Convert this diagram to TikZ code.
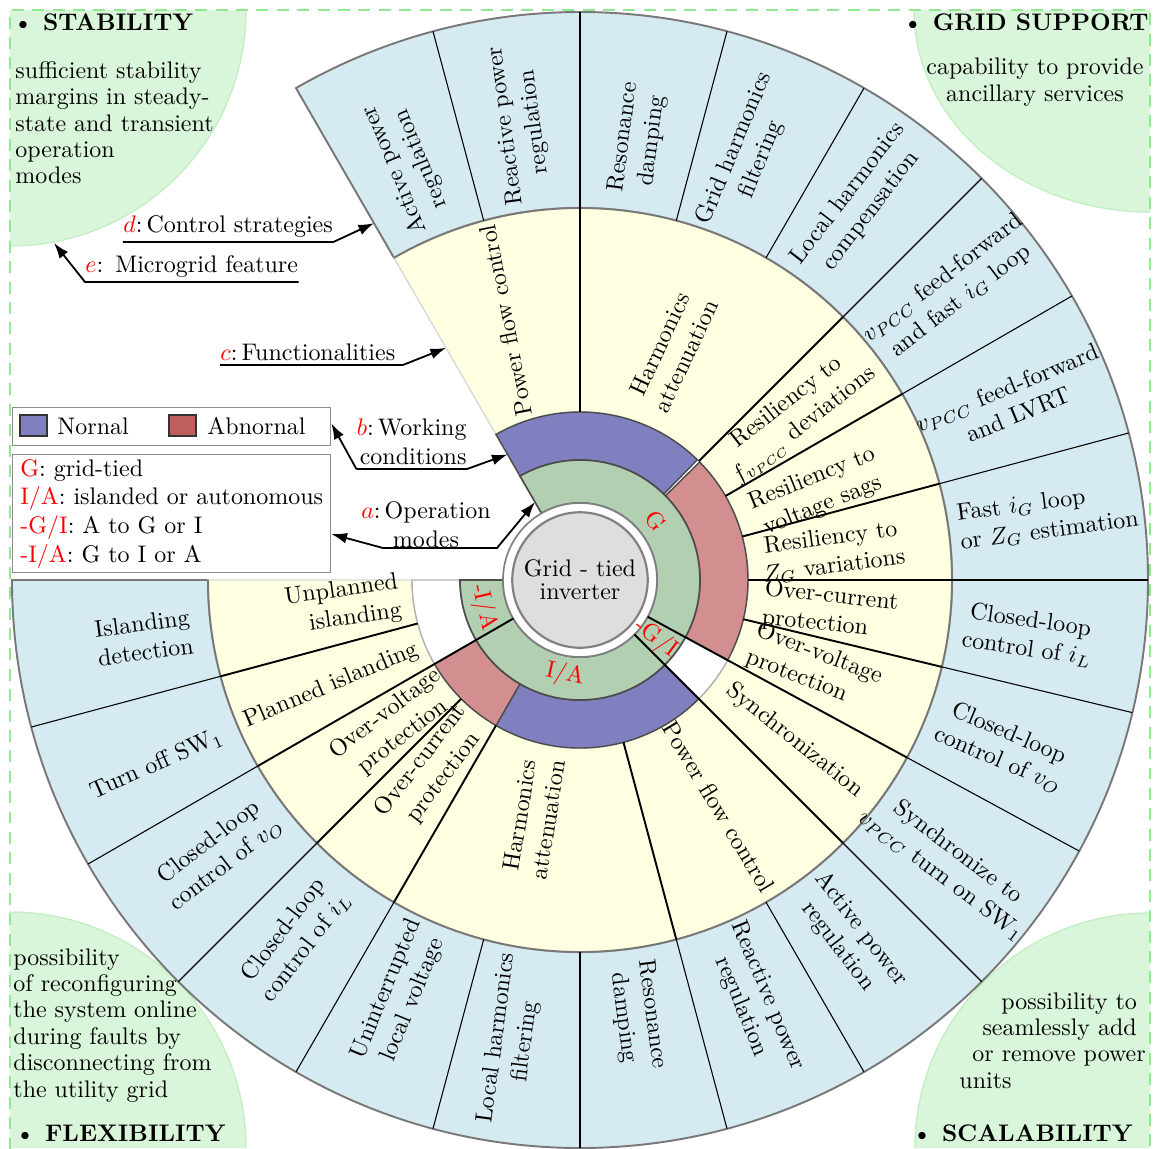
\documentclass[tikz,border=0pt]{standalone}
\usetikzlibrary{arrows.meta,calc}

\definecolor{ctrlblue}{RGB}{214,234,242}
\definecolor{funcyellow}{RGB}{255,255,226}
\definecolor{normalpurple}{RGB}{128,128,192}
\definecolor{abnormred}{RGB}{211,143,143}
\definecolor{legendred}{RGB}{190,94,94}
\definecolor{modegreen}{RGB}{178,207,178}
\definecolor{corefill}{RGB}{222,222,222}
\definecolor{featgreen}{RGB}{218,246,218}
\definecolor{featline}{RGB}{198,238,198}
\definecolor{framegreen}{RGB}{144,232,144}
\definecolor{ringgray}{RGB}{120,120,120}

% annular sector: [options]{start angle}{end angle}{inner radius}{outer radius}
\newcommand\ringsector[5][]{%
  \path[#1] (#2:#5) arc[start angle=#2, end angle=#3, radius=#5]
    -- (#3:#4) arc[start angle=#3, end angle=#2, radius=#4] -- cycle;}

\begin{document}
\begin{tikzpicture}[x=0.417pt, y=0.417pt,
  lbl/.style={align=center, inner sep=0pt},
  modelbl/.style={text=red, inner sep=0pt},
  divthick/.style={line width=0.8pt, black},
  divthin/.style={line width=0.45pt, black},
  ringline/.style={draw=ringgray, line width=0.8pt},
  wcnormal/.style={fill=normalpurple, draw=black!70, line width=0.6pt},
  wcabnormal/.style={fill=abnormred, draw=black!70, line width=0.6pt},
  wcnone/.style={fill=white, draw=black!30, line width=0.6pt},
  conn/.style={line width=0.75pt, -{Latex[length=6.5pt,width=4.5pt]}},
  uline/.style={anchor=south west, inner xsep=0pt, inner ysep=1.5pt},
  legbox/.style={draw=black!45, line width=0.6pt, inner sep=0pt},
  swatch/.style={draw=black!80, line width=0.6pt, minimum width=11.1pt, minimum height=8.8pt, inner sep=0pt},
  feature/.style={align=left, inner sep=0pt, font=\fontsize{10}{11}\selectfont},
  heading/.style={anchor=west, inner sep=0pt, font=\bfseries},
]
\useasboundingbox (-580,-568) rectangle (574,580);

% ---- microgrid feature corners ----
\fill[featgreen] (-570,570) -- (-334,570) arc[start angle=0, end angle=-90, radius=236] -- cycle;
\draw[featline, line width=0.6pt] (-334,570) arc[start angle=0, end angle=-90, radius=236];
\fill[featgreen] (570,570) -- (334,570) arc[start angle=180, end angle=270, x radius=236, y radius=202] -- cycle;
\draw[featline, line width=0.6pt] (334,570) arc[start angle=180, end angle=270, x radius=236, y radius=202];
\fill[featgreen] (-570,-568) -- (-570,-332) arc[start angle=90, end angle=0, radius=236] -- cycle;
\draw[featline, line width=0.6pt] (-570,-332) arc[start angle=90, end angle=0, radius=236];
\fill[featgreen] (570,-568) -- (335,-568) arc[start angle=180, end angle=90, radius=235] -- cycle;
\draw[featline, line width=0.6pt] (335,-568) arc[start angle=180, end angle=90, radius=235];

\draw[framegreen, line width=0.7pt, dash pattern=on 5pt off 3.5pt]
  (-570,-590) -- (-570,570) -- (570,570) -- (570,-590);

% ---- rings ----
\ringsector[fill=ctrlblue, ringline]{-180}{120}{372}{568}
\ringsector[fill=funcyellow, draw=black!15, line width=0.6pt]{-180}{120}{168}{372}
\draw[ringline] (-180:372) arc[start angle=-180, end angle=120, radius=372];

\ringsector[wcnormal]{45.7}{120}{120}{168}
\ringsector[wcnormal]{-120}{-45}{120}{168}
\ringsector[wcabnormal]{-28.5}{44.6}{120}{168}
\ringsector[wcabnormal]{-150}{-120}{120}{168}
\ringsector[wcnone]{-45}{-28.5}{120}{168}
\ringsector[wcnone]{-180}{-150}{120}{168}

\ringsector[fill=modegreen, draw=black!70, line width=0.7pt]{-180}{120}{77}{120}
\filldraw[fill=white, draw=gray, line width=0.7pt] (0,0) circle[radius=77];

% ---- dividers ----
\foreach \a in {90,45,30,15,0,-13.5,-75,-120,-135,-165}
  \draw[divthick] (\a:168) -- (\a:372);
\foreach \a in {-28.5,-45,-150}
  \draw[divthick] (\a:77) -- (\a:372);
\foreach \a in {105,90,75,60,45,30,15,0,-13.5,-28.5,-45,-60,-75,-90,-105,-120,-135,-150,-165}
  \draw[divthin] (\a:372) -- (\a:568);

% ---- core ----
\node[circle, fill=corefill, draw=gray, line width=0.9pt, minimum size=56.5pt, inner sep=0pt,
      align=center, font=\fontsize{10}{9.5}\selectfont] (core) at (0,0) {Grid - tied\\inverter};

% ---- operation modes ----
\node[modelbl, rotate=-52] (mG) at (38:96) {G};
\node[modelbl, rotate=-37] (mGI) at (-37.5:96) {-G/I};
\node[modelbl, rotate=-12] (mIA) at (-99:96) {I/A};
\node[modelbl, rotate=-77] (mnIA) at (-164:100) {-I/A};

% ---- functionalities ----
\node[lbl, rotate=101] (fPFC) at (106:270) {Power flow control};
\node[lbl, rotate=65] (fHarm) at (68:248) {Harmonics\\attenuation};
\node[lbl, rotate=38] (fResF) at (37.5:272) {Resiliency to\\$f_{v_{PCC}}$ deviations};
\node[lbl, rotate=22] (fResV) at (20.3:253) {Resiliency to\\voltage sags};
\node[lbl, rotate=7.5] (fResZ) at (6.3:254) {Resiliency to\\$Z_G$ variations};
\node[lbl, rotate=-6, align=left] (fOC1) at (-7:252) {Over-current\\protection};
\node[lbl, rotate=-21, align=left] (fOV1) at (-20.5:250) {Over-voltage\\protection};
\node[lbl, rotate=-38.5] (fSync) at (-36.75:268) {Synchronization};
\node[lbl, rotate=-59] (fPFC2) at (-58.5:266) {Power flow control};
\node[lbl, rotate=81] (fHarm2) at (-101:242) {Harmonics\\attenuation};
\node[lbl, rotate=52.5] (fOC2) at (-128:240) {Over-current\\protection};
\node[lbl, rotate=37.5] (fOV2) at (-142:236) {Over-voltage\\protection};
\node[lbl, rotate=23] (fPlan) at (-157:270) {Planned islanding};
\node[lbl, rotate=8, align=right] (fUnpl) at (-174:238) {Unplanned\\islanding};

% ---- control strategies ----
\node[lbl, rotate=112.5] (cApwr) at (112.5:450) {Active power\\regulation};
\node[lbl, rotate=97.5] (cRpwr) at (97.5:460) {Reactive power\\regulation};
\node[lbl, rotate=82.5] (cRes) at (82.5:445) {Resonance\\damping};
\node[lbl, rotate=67.5] (cGrid) at (68.5:458) {Grid harmonics\\filtering};
\node[lbl, rotate=52.5] (cLoc) at (53.5:470) {Local harmonics\\compensation};
\node[lbl, rotate=37.5] (cFF1) at (38:472) {$v_{PCC}$ feed-forward\\and fast $i_G$ loop};
\node[lbl, rotate=22.5] (cFF2) at (22.5:468) {$v_{PCC}$ feed-forward\\and LVRT};
\node[lbl, rotate=7.5, align=left] (cFast) at (7.7:472) {Fast $i_G$ loop\\or $Z_G$ estimation};
\node[lbl, rotate=-8] (cIL1) at (-7:452) {Closed-loop\\control of $i_L$};
\node[lbl, rotate=-23] (cVO1) at (-21.5:455) {Closed-loop\\control of $v_O$};
\node[lbl, rotate=-37] (cSync) at (-37.5:466) {Synchronize to\\$v_{PCC}$ turn on SW$_1$};
\node[lbl, rotate=-52.5] (cApwr2) at (-53:448) {Active power\\regulation};
\node[lbl, rotate=-67.5] (cRpwr2) at (-67.5:456) {Reactive power\\regulation};
\node[lbl, rotate=-82.5] (cRes2) at (-82.5:440) {Resonance\\damping};
\node[lbl, rotate=82.5] (cLocF) at (-98.5:465) {Local harmonics\\filtering};
\node[lbl, rotate=67.5] (cUnint) at (-113.5:452) {Uninterrupted\\local voltage};
\node[lbl, rotate=52.5] (cIL2) at (-128.5:458) {Closed-loop\\control of $i_L$};
\node[lbl, rotate=37.5] (cVO2) at (-143:454) {Closed-loop\\control of $v_O$};
\node[lbl, rotate=24] (cSW) at (-156.5:462) {Turn off SW$_1$};
\node[lbl, rotate=7.5] (cIsl) at (-172.5:440) {Islanding\\detection};

% ---- legends ----
\node[legbox, minimum width=132.6pt, minimum height=15.85pt, anchor=north west] (leg1) at (-568,173) {};
\node[swatch, fill=normalpurple] (swN) at (-546.5,154.5) {};
\node[anchor=west, inner sep=0pt] (tN) at (-523,154) {Nornal};
\node[swatch, fill=legendred] (swA) at (-397.5,154.5) {};
\node[anchor=west, inner sep=0pt] (tA) at (-373,154) {Abnornal};

\node[legbox, minimum width=132.6pt, minimum height=49.2pt, anchor=north west, align=left] (leg2) at (-568,126)
  {\textcolor{red}{G}: grid-tied\\\textcolor{red}{I/A}: islanded or autonomous\\\textcolor{red}{-G/I}: A to G or I\\\textcolor{red}{-I/A}: G to I or A};

% ---- layer annotations ----
\node[uline] (lblE) at (-495,298) {\textcolor{red}{$e$}:\ \,Microgrid feature};
\coordinate (tipE) at (-526,337);
\draw[conn] (lblE.south east) -- (lblE.south west) -- (tipE);

\node[uline] (lblD) at (-457,338) {\textcolor{red}{$d$}:\,Control strategies};
\coordinate (tipD) at (120:412);
\draw[conn] (lblD.south west) -- (lblD.south east) -- (tipD);

\node[uline] (lblC) at (-360,215) {\textcolor{red}{$c$}:\,Functionalities\hspace*{3pt}};
\coordinate (tipC) at (120:268);
\draw[conn] (lblC.south west) -- (lblC.south east) -- (tipC);

\node[align=right, anchor=south east, inner xsep=0pt, inner ysep=1.5pt] (lblB) at (-113,111)
  {\textcolor{red}{$b$}:\,Working\\conditions};
\coordinate (tipB) at (120:145);
\coordinate (legB) at ($(leg1.north east)!0.42!(leg1.south east)$);
\draw[conn] (lblB.south west) -- (lblB.south east) -- (tipB);
\draw[conn] (lblB.south west) -- (legB);

\node[lbl] (lblA) at (-154,55) {\textcolor{red}{$a$}:\,Operation\\modes};
\coordinate (aL) at (-197,32);
\coordinate (aR) at (-83,32);
\coordinate (tipA) at (120:90);
\coordinate (legA) at ($(leg2.north east)!0.67!(leg2.south east)$);
\draw[conn] (aL) -- (aR) -- (tipA);
\draw[conn] (aL) -- (legA);

% ---- feature texts ----
\node[heading] (stabHd) at (-568,558) {\textbullet\ STABILITY};
\node[feature, anchor=north west] (stabTxt) at (-565,519)
  {sufficient stability\\margins in steady-\\state and transient\\operation\\modes};
\node[heading, anchor=east] (gridHd) at (569,558) {\textbullet\ GRID SUPPORT};
\node[feature, align=center] (gridTxt) at (455,498) {capability to provide\\ancillary services};
\node[feature, anchor=north west] (flexTxt) at (-567,-368)
  {possibility\\of reconfiguring\\the system online\\during faults by\\disconnecting from\\the utility grid};
\node[heading] (flexHd) at (-566,-553) {\textbullet\ FLEXIBILITY};
\node[feature, anchor=north west] (scalTxt) at (379,-412)
  {\hspace*{17.5pt}possibility to\\\hspace*{9.6pt}seamlessly add\\\hspace*{5.4pt}or remove power\\units};
\node[heading] (scalHd) at (331,-553) {\textbullet\ SCALABILITY};
\end{tikzpicture}
\end{document}
